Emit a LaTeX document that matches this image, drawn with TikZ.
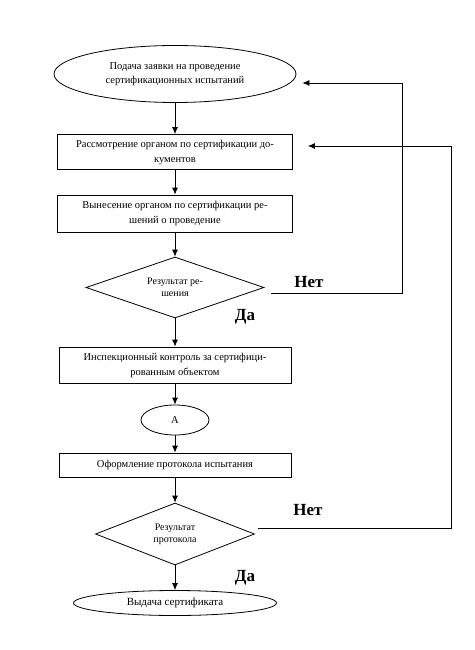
\documentclass[tikz,border=0pt]{standalone}
\usepackage{fontspec}
\setmainfont{Liberation Serif}
\usetikzlibrary{shapes.geometric,arrows.meta}

\tikzset{every picture/.style={line width=0.8pt}}
\tikzset{
  blok/.style={draw, rectangle, minimum width=235, minimum height=35, inner sep=0, align=center, font=\fontsize{10.5}{15}\selectfont},
  romb/.style={draw, diamond, aspect=2.9, inner sep=0, align=center, font=\fontsize{10}{12}\selectfont},
  oval/.style={draw, ellipse, inner sep=0, align=center, font=\fontsize{10.5}{14}\selectfont},
  strelka/.style={-{Latex[length=7pt,width=6pt]}},
  metka/.style={font=\fontsize{17}{17}\selectfont\bfseries}
}

\begin{document}
\begin{tikzpicture}[x=1pt,y=1pt,yscale=-1,xscale=1]
\useasboundingbox (0,0) rectangle (474,650);

%Shape: Ellipse [start]
\node [oval, minimum width=242, minimum height=57] (podacha) at (175,74) {Подача заявки на проведение\\сертификационных испытаний};
%Shape: Rectangle
\node [blok] (rassm) at (175,152) {Рассмотрение органом по сертификации до-\\кументов};
%Shape: Rectangle
\node [blok, minimum height=37] (vynes) at (175,213.5) {Вынесение органом по сертификации ре-\\шений о проведение};
%Shape: Diamond
\node [romb, minimum width=178, minimum height=61] (rez1) at (175,287.5) {Результат ре-\\шения};
%Shape: Rectangle
\node [blok, minimum width=232, minimum height=36] (insp) at (175,365) {Инспекционный контроль за сертифици-\\рованным объектом};
%Shape: Ellipse [A]
\node [oval, minimum width=68, minimum height=30] (tochkaA) at (175,420) {А};
%Shape: Rectangle
\node [blok, minimum width=232, minimum height=24] (oform) at (175,465) {Оформление протокола испытания};
%Shape: Diamond
\node [romb, minimum width=159, minimum height=62] (rez2) at (175,534) {Результат\\протокола};
%Shape: Ellipse [end]
\node [oval, minimum width=203, minimum height=25, font=\fontsize{11}{14}\selectfont] (vydacha) at (175,603) {Выдача сертификата};

%Straight Lines
\draw [strelka] (podacha) -- (rassm);
\draw [strelka] (rassm) -- (vynes);
\draw [strelka] (vynes) -- (rez1);
\draw [strelka] (rez1) -- (insp);
\draw [strelka] (insp) -- (tochkaA);
\draw [strelka] (tochkaA) -- (oform);
\draw [strelka] (oform) -- (rez2);
\draw [strelka] (rez2) -- (vydacha);

%Feedback Lines
\coordinate (vyhod1) at (271,293);
\coordinate (povtor1) at (402,83);
\coordinate (vyhod2) at (258,528);
\coordinate (povtor2) at (451,146);
\draw [strelka, shorten >=6pt] (vyhod1) -| (povtor1) -- (podacha.east |- povtor1);
\draw [strelka, shorten >=15pt] (vyhod2) -| (povtor2) -- (rassm.east |- povtor2);

% Text Node
\node [metka] (net1) at (309,282) {Нет};
% Text Node
\node [metka] (da1) at (245,317) {Да};
% Text Node
\node [metka] (net2) at (308,510) {Нет};
% Text Node
\node [metka] (da2) at (245,578) {Да};

\end{tikzpicture}
\end{document}
